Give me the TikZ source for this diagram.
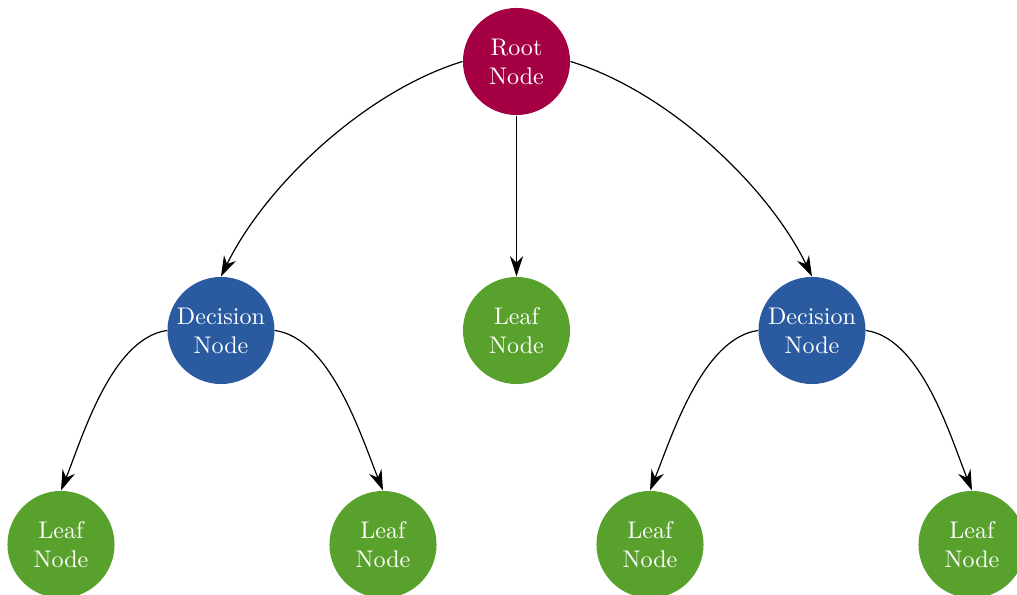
\documentclass[tikz,border=0pt]{standalone}
\usetikzlibrary{arrows.meta}

\definecolor{rootcol}{HTML}{A50044}
\definecolor{decisioncol}{HTML}{2A5AA0}
\definecolor{leafcol}{HTML}{58A12C}

\tikzset{
  treenode/.style={circle, minimum size=44.5pt, inner sep=0pt, text=white, align=center, font=\normalsize},
  rootnode/.style={treenode, fill=rootcol},
  decisionnode/.style={treenode, fill=decisioncol},
  leafnode/.style={treenode, fill=leafcol},
  link/.style={line width=0.5pt, -{Stealth[length=8.5pt, width=5.5pt]}},
}

\begin{document}
\begin{tikzpicture}[x=0.4156pt, y=0.4156pt]
  \useasboundingbox (0,0) rectangle (1017,595);

  % nodes
  \node[rootnode]     (root)  at (516.5,533.5) {Root\\Node};
  \node[decisionnode] (decL)  at (221,264.5)   {Decision\\Node};
  \node[leafnode]     (leafM) at (516.5,264.5) {Leaf\\Node};
  \node[decisionnode] (decR)  at (812,264.5)   {Decision\\Node};
  \node[leafnode]     (leafA) at (61,50.5)     {Leaf\\Node};
  \node[leafnode]     (leafB) at (383,50.5)    {Leaf\\Node};
  \node[leafnode]     (leafC) at (650,50.5)    {Leaf\\Node};
  \node[leafnode]     (leafD) at (972,50.5)    {Leaf\\Node};

  % connectors
  \draw[link] (root.west) to[out=197, in=64, looseness=0.8] (decL.north);
  \draw[link] (root.south) -- (leafM.north);
  \draw[link] (root.east) to[out=-17, in=116, looseness=0.8] (decR.north);

  \draw[link] (decL.west) to[out=188, in=68, looseness=0.75] (leafA.north);
  \draw[link] (decL.east) to[out=-8, in=112, looseness=0.75] (leafB.north);
  \draw[link] (decR.west) to[out=188, in=68, looseness=0.75] (leafC.north);
  \draw[link] (decR.east) to[out=-8, in=112, looseness=0.75] (leafD.north);
\end{tikzpicture}
\end{document}
